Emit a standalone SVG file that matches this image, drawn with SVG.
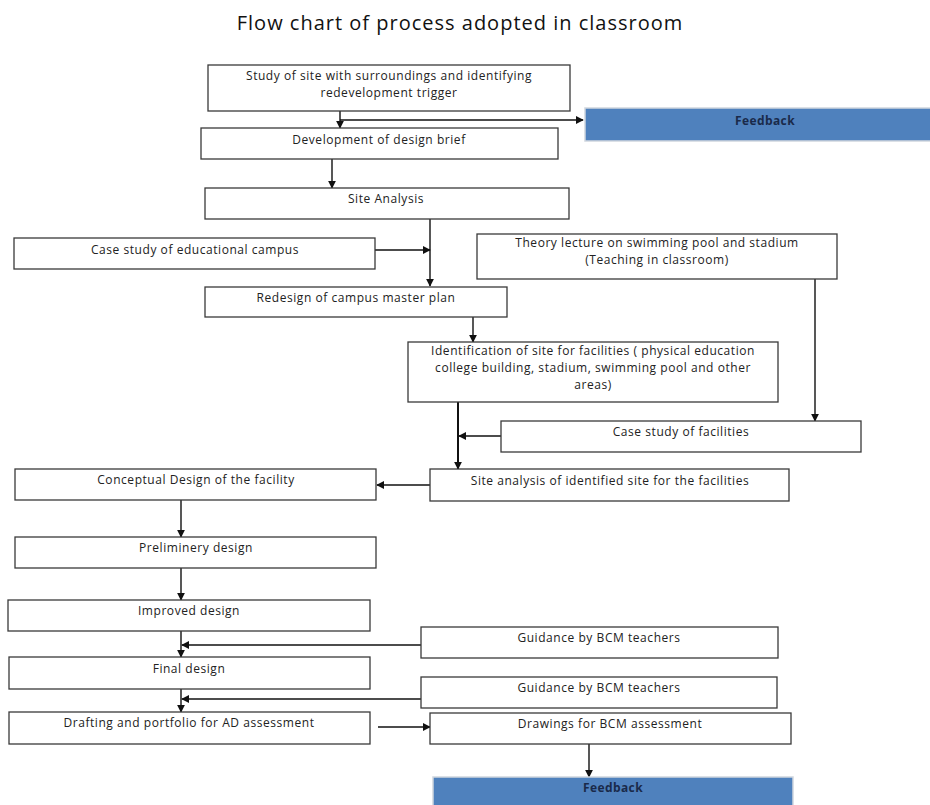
<svg xmlns="http://www.w3.org/2000/svg" width="930" height="805" viewBox="0 0 930 805">
<style>
.box{fill:#fff;stroke:#3a3a3a;stroke-width:1.3}
.fb{fill:#4F81BD;stroke:#d0d6de;stroke-width:1.5}
.t{font-family:"Open Sans","DejaVu Sans",sans-serif;font-size:12px;letter-spacing:0.55px;fill:#222;text-anchor:middle}
.ft{font-family:"Open Sans","DejaVu Sans",sans-serif;font-size:12px;letter-spacing:0.4px;font-weight:bold;fill:#1a2a4a;text-anchor:middle}
.title{font-family:"Open Sans","DejaVu Sans",sans-serif;font-size:20px;letter-spacing:1px;fill:#111;text-anchor:middle}
.c{fill:none;stroke:#111;stroke-width:1.4}
.c2{fill:none;stroke:#111;stroke-width:2}
</style>
<defs>
<marker id="ahs" viewBox="0 0 10 10" refX="9" refY="5" markerWidth="8" markerHeight="8" orient="auto" markerUnits="userSpaceOnUse">
<path d="M0,0 L10,5 L0,10 z" fill="#111"/>
</marker>
</defs>
<rect width="930" height="805" fill="#fff"/>
<text class="title" x="460" y="30">Flow chart of process adopted in classroom</text>

<g id="connectors">
<line class="c" x1="340" y1="111" x2="340" y2="128" marker-end="url(#ahs)"/>
<line class="c" x1="340" y1="120" x2="583" y2="120" marker-end="url(#ahs)"/>
<line class="c" x1="332" y1="159" x2="332" y2="188" marker-end="url(#ahs)"/>
<line class="c" x1="430" y1="219" x2="430" y2="286" marker-end="url(#ahs)"/>
<line class="c" x1="370" y1="250" x2="430" y2="250" marker-end="url(#ahs)"/>
<line class="c" x1="815" y1="279" x2="815" y2="421" marker-end="url(#ahs)"/>
<line class="c" x1="473" y1="317" x2="473" y2="342" marker-end="url(#ahs)"/>
<line class="c2" x1="458" y1="402" x2="458" y2="469" marker-end="url(#ahs)"/>
<line class="c" x1="501" y1="436" x2="459" y2="436" marker-end="url(#ahs)"/>
<line class="c" x1="430" y1="485" x2="377" y2="485" marker-end="url(#ahs)"/>
<line class="c" x1="181" y1="500" x2="181" y2="537" marker-end="url(#ahs)"/>
<line class="c" x1="181" y1="568" x2="181" y2="600" marker-end="url(#ahs)"/>
<line class="c" x1="181" y1="631" x2="181" y2="657" marker-end="url(#ahs)"/>
<line class="c" x1="421" y1="645" x2="182" y2="645" marker-end="url(#ahs)"/>
<line class="c" x1="181" y1="689" x2="181" y2="712" marker-end="url(#ahs)"/>
<line class="c" x1="421" y1="699" x2="182" y2="699" marker-end="url(#ahs)"/>
<line class="c" x1="378" y1="727" x2="430" y2="727" marker-end="url(#ahs)"/>
<line class="c" x1="589" y1="744" x2="589" y2="777" marker-end="url(#ahs)"/>
</g>

<g id="n1"><rect class="box" x="208" y="65" width="362" height="46"/>
<text class="t" x="389" y="80">Study of site with surroundings and identifying</text>
<text class="t" x="389" y="97">redevelopment trigger</text></g>

<g id="fb1"><rect class="fb" x="585" y="108" width="350" height="33"/>
<text class="ft" x="765" y="125">Feedback</text></g>

<g id="n2"><rect class="box" x="201" y="128" width="357" height="31"/>
<text class="t" x="379" y="144">Development of design brief</text></g>

<g id="n3"><rect class="box" x="205" y="188" width="364" height="31"/>
<text class="t" x="386" y="203">Site Analysis</text></g>

<g id="n4"><rect class="box" x="14" y="238" width="361" height="31"/>
<text class="t" x="195" y="254">Case study of educational campus</text></g>

<g id="n5"><rect class="box" x="477" y="234" width="360" height="45"/>
<text class="t" x="657" y="247">Theory lecture on swimming pool and stadium</text>
<text class="t" x="657" y="264">(Teaching in classroom)</text></g>

<g id="n6"><rect class="box" x="205" y="287" width="302" height="30"/>
<text class="t" x="356" y="302">Redesign of campus master plan</text></g>

<g id="n7"><rect class="box" x="408" y="342" width="370" height="60"/>
<text class="t" x="593" y="355">Identification of site for facilities ( physical education</text>
<text class="t" x="593" y="372">college building, stadium, swimming pool and other</text>
<text class="t" x="593" y="389">areas)</text></g>

<g id="n8"><rect class="box" x="501" y="421" width="360" height="31"/>
<text class="t" x="681" y="436">Case study of facilities</text></g>

<g id="n9"><rect class="box" x="430" y="469" width="359" height="32"/>
<text class="t" x="610" y="485">Site analysis of identified site for the facilities</text></g>

<g id="n10"><rect class="box" x="15" y="469" width="361" height="31"/>
<text class="t" x="196" y="484">Conceptual Design of the facility</text></g>

<g id="n11"><rect class="box" x="15" y="537" width="361" height="31"/>
<text class="t" x="196" y="552">Preliminery design</text></g>

<g id="n12"><rect class="box" x="8" y="600" width="362" height="31"/>
<text class="t" x="189" y="615">Improved design</text></g>

<g id="n13"><rect class="box" x="421" y="627" width="357" height="31"/>
<text class="t" x="599" y="642">Guidance by BCM teachers</text></g>

<g id="n14"><rect class="box" x="9" y="657" width="361" height="32"/>
<text class="t" x="189" y="673">Final design</text></g>

<g id="n15"><rect class="box" x="421" y="677" width="356" height="31"/>
<text class="t" x="599" y="692">Guidance by BCM teachers</text></g>

<g id="n16"><rect class="box" x="9" y="712" width="361" height="32"/>
<text class="t" x="189" y="727">Drafting and portfolio for AD assessment</text></g>

<g id="n17"><rect class="box" x="430" y="713" width="361" height="31"/>
<text class="t" x="610" y="728">Drawings for BCM assessment</text></g>

<g id="fb2"><rect class="fb" x="433" y="777" width="360" height="32"/>
<text class="ft" x="613" y="792">Feedback</text></g>
</svg>
